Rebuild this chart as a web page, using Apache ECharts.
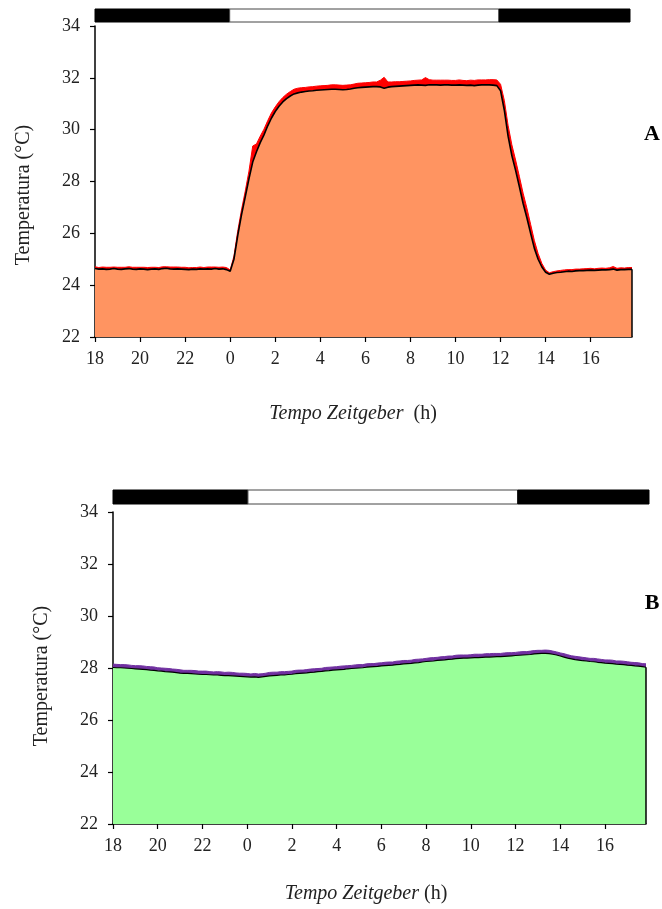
<!DOCTYPE html>
<html>
<head>
<meta charset="utf-8">
<script src="https://cdn.jsdelivr.net/npm/echarts@6/dist/echarts.min.js"></script>
<style>
  html, body { margin: 0; padding: 0; background: #fff; }
  #chart { width: 662px; height: 909px; }
</style>
</head>
<body>
<div id="chart"></div>
<script>
// Sampling: one reading every 10 minutes, starting at ZT18 (hours counted continuously 18 -> 41.83)
const startHour = 18;
const samplesPerHour = 6;

// Panel A: mean temperature (ºC) and standard error, 144 samples
const meanA = [
  24.64,24.62,24.63,24.61,24.62,24.64,
  24.62,24.61,24.63,24.64,24.62,24.61,
  24.63,24.62,24.60,24.62,24.63,24.61,
  24.64,24.65,24.63,24.62,24.63,24.62,
  24.61,24.60,24.62,24.61,24.63,24.62,
  24.63,24.62,24.64,24.62,24.63,24.60,
  24.54,25.00,25.90,26.70,27.40,28.10,
  28.75,29.15,29.50,29.80,30.15,30.45,
  30.70,30.90,31.07,31.20,31.30,31.38,
  31.42,31.45,31.47,31.49,31.50,31.52,
  31.53,31.54,31.55,31.56,31.56,31.55,
  31.54,31.55,31.57,31.60,31.62,31.63,
  31.64,31.65,31.66,31.66,31.65,31.60,
  31.64,31.66,31.67,31.68,31.69,31.70,
  31.71,31.72,31.73,31.72,31.71,31.73,
  31.73,31.73,31.72,31.73,31.73,31.72,
  31.72,31.73,31.72,31.71,31.72,31.70,
  31.72,31.73,31.73,31.73,31.72,31.70,
  31.50,30.75,29.75,29.00,28.43,27.80,
  27.15,26.60,26.00,25.42,25.00,24.70,
  24.50,24.42,24.46,24.49,24.50,24.52,
  24.54,24.53,24.55,24.56,24.56,24.57,
  24.58,24.57,24.58,24.59,24.59,24.60,
  24.62,24.58,24.60,24.60,24.61,24.61
];
const semA = [
  .07,.06,.07,.08,.07,.06,
  .07,.08,.06,.07,.07,.08,
  .06,.07,.08,.07,.06,.07,
  .07,.06,.07,.08,.07,.07,
  .08,.07,.06,.07,.07,.06,
  .07,.08,.06,.07,.07,.08,
  .05,.12,.18,.20,.22,.30,
  .62,.30,.25,.22,.20,.20,
  .18,.18,.17,.17,.17,.18,
  .18,.17,.16,.16,.16,.16,
  .16,.16,.16,.17,.17,.17,
  .17,.17,.16,.16,.17,.17,
  .17,.17,.18,.18,.26,.42,
  .20,.18,.18,.17,.17,.17,
  .17,.18,.18,.20,.30,.20,
  .18,.18,.19,.18,.18,.18,
  .18,.19,.18,.18,.19,.20,
  .20,.19,.19,.20,.21,.22,
  .25,.38,.42,.42,.40,.40,
  .40,.38,.35,.30,.22,.14,
  .08,.06,.06,.06,.07,.07,
  .06,.07,.07,.06,.07,.07,
  .07,.06,.07,.07,.06,.07,
  .10,.07,.07,.06,.07,.07
];

// Panel B: mean temperature (ºC) and standard error, 144 samples
const meanB = [
  28.02,28.01,28.01,28.00,27.99,27.98,
  27.97,27.96,27.95,27.94,27.92,27.91,
  27.89,27.88,27.86,27.85,27.84,27.82,
  27.80,27.79,27.79,27.78,27.77,27.76,
  27.75,27.75,27.74,27.73,27.73,27.72,
  27.71,27.71,27.70,27.69,27.68,27.67,
  27.66,27.65,27.66,27.64,27.66,27.68,
  27.70,27.71,27.72,27.73,27.73,27.75,
  27.76,27.78,27.79,27.80,27.81,27.83,
  27.84,27.86,27.87,27.89,27.90,27.92,
  27.93,27.94,27.95,27.97,27.98,27.99,
  28.00,28.01,28.03,28.04,28.05,28.06,
  28.08,28.09,28.10,28.11,28.13,28.14,
  28.16,28.17,28.18,28.20,28.21,28.23,
  28.25,28.26,28.27,28.29,28.30,28.31,
  28.33,28.34,28.36,28.37,28.38,28.38,
  28.39,28.40,28.40,28.41,28.42,28.42,
  28.43,28.44,28.44,28.45,28.46,28.47,
  28.48,28.49,28.50,28.51,28.52,28.54,
  28.55,28.56,28.56,28.55,28.53,28.50,
  28.46,28.42,28.38,28.35,28.32,28.30,
  28.28,28.27,28.25,28.24,28.22,28.21,
  28.19,28.18,28.17,28.15,28.14,28.13,
  28.11,28.10,28.08,28.07,28.05,28.03
];
const semB = [
  .13,.13,.12,.13,.13,.12,
  .12,.13,.13,.12,.13,.13,
  .12,.12,.13,.13,.12,.13,
  .13,.12,.12,.13,.13,.12,
  .13,.13,.12,.12,.13,.13,
  .12,.13,.13,.12,.12,.13,
  .13,.12,.13,.13,.12,.12,
  .13,.13,.12,.13,.13,.12,
  .12,.13,.13,.12,.13,.13,
  .13,.12,.12,.13,.13,.12,
  .12,.13,.13,.12,.12,.13,
  .13,.12,.13,.13,.12,.13,
  .12,.13,.13,.12,.13,.13,
  .13,.12,.12,.13,.13,.12,
  .12,.13,.13,.12,.13,.13,
  .13,.12,.13,.13,.12,.12,
  .12,.13,.13,.12,.13,.13,
  .13,.12,.12,.13,.13,.12,
  .12,.13,.13,.12,.13,.13,
  .13,.12,.13,.13,.12,.12,
  .12,.13,.13,.12,.13,.13,
  .13,.12,.12,.13,.13,.12,
  .12,.13,.13,.12,.13,.13,
  .13,.12,.13,.13,.12,.13
];

// Axis ticks (continuous hours; labels shown as ZT mod 24)
const xTicks = [18,20,22,24,26,28,30,32,34,36,38,40];
const yMin = 22, yMax = 34, yStep = 2;

// Light/dark schedule for the bar above each panel: [from, to, isLight]
const lightSchedule = [[18, 24, 0], [24, 36, 1], [36, 41 + 5/6, 0]];

const hours = meanA.map((_, i) => startHour + i / samplesPerHour);
const xEnd = hours[hours.length - 1];

const serif = "'Liberation Serif', 'Times New Roman', serif";
const textColor = '#222';

const chart = echarts.init(document.getElementById('chart'), null, { renderer: 'canvas' });

const panels = [
  { mean: meanA, sem: semA, fill: '#FF9461', band: '#FF0000', line: 1.6,
    plot: { left: 95, top: 26, width: 537, height: 311 },
    bar:  { left: 95, top: 9, width: 535, height: 13 } },
  { mean: meanB, sem: semB, fill: '#99FF99', band: '#7030A0', line: 1.2,
    plot: { left: 113, top: 512, width: 533, height: 312 },
    bar:  { left: 113, top: 490, width: 536, height: 14 } }
];

const grid = [], xAxis = [], yAxis = [], series = [];

panels.forEach((p, k) => {
  const gPlot = grid.length;
  grid.push(p.plot);
  const gBar = grid.length;
  grid.push(p.bar);

  xAxis.push({
    type: 'value', gridIndex: gPlot, min: startHour, max: xEnd,
    axisLine: { show: true, lineStyle: { color: '#000', width: 1.5 } },
    axisTick: { show: true, length: 5, lineStyle: { color: '#000', width: 1.2 }, customValues: xTicks },
    axisLabel: { show: true, customValues: xTicks, margin: 13,
      formatter: v => String(Math.round(v) % 24),
      fontFamily: serif, fontSize: 18, color: textColor },
    splitLine: { show: false }
  });
  yAxis.push({
    type: 'value', gridIndex: gPlot, min: yMin, max: yMax, interval: yStep,
    axisLine: { show: true, lineStyle: { color: '#000', width: 1.5 } },
    axisTick: { show: true, length: 5, lineStyle: { color: '#000', width: 1.2 } },
    axisLabel: { margin: 15, fontFamily: serif, fontSize: 18, color: textColor },
    splitLine: { show: false }
  });
  const xPlot = xAxis.length - 1, yPlot = yAxis.length - 1;

  xAxis.push({ type: 'value', gridIndex: gBar, min: startHour, max: xEnd, show: false });
  yAxis.push({ type: 'value', gridIndex: gBar, min: 0, max: 1, show: false });
  const xBar = xAxis.length - 1, yBar = yAxis.length - 1;

  const upper = p.mean.map((m, i) => [hours[i], +(m + p.sem[i]).toFixed(3)]);
  const meanPts = p.mean.map((m, i) => [hours[i], m]);
  const last = meanPts[meanPts.length - 1];

  // mean + SEM envelope
  series.push({
    type: 'line', xAxisIndex: xPlot, yAxisIndex: yPlot, data: upper,
    symbol: 'none', smooth: false,
    lineStyle: { color: p.band, width: 1 },
    areaStyle: { color: p.band, opacity: 1, origin: 'start' },
    z: 2, silent: true
  });
  // mean curve with filled area
  series.push({
    type: 'line', xAxisIndex: xPlot, yAxisIndex: yPlot, data: meanPts,
    symbol: 'none', smooth: false,
    lineStyle: { color: '#000', width: p.line },
    areaStyle: { color: p.fill, opacity: 1, origin: 'start' },
    z: 3, silent: true,
    markLine: {
      silent: true, symbol: 'none', animation: false,
      label: { show: false },
      lineStyle: { color: '#000', width: 1.5, type: 'solid' },
      data: [[{ coord: [last[0], yMin] }, { coord: [last[0], last[1]] }]]
    }
  });
  // light/dark bar
  series.push({
    type: 'custom', xAxisIndex: xBar, yAxisIndex: yBar,
    data: lightSchedule,
    encode: { x: [0, 1], y: 2 },
    silent: true,
    renderItem: (params, api) => {
      const a = api.coord([api.value(0), 1]);
      const b = api.coord([api.value(1), 0]);
      const light = api.value(2) === 1;
      return {
        type: 'rect',
        shape: { x: a[0], y: a[1], width: b[0] - a[0], height: b[1] - a[1] },
        style: { fill: light ? '#fff' : '#000', stroke: light ? '#444' : '#000', lineWidth: 1 }
      };
    }
  });
});

const titleFont = '20px ' + serif;
const graphic = [
  { type: 'text', x: 353, y: 414, style: { text: '{i|Tempo Zeitgeber}  (h)', font: titleFont, fill: textColor,
      align: 'center', verticalAlign: 'middle', rich: { i: { fontStyle: 'italic', font: 'italic 20px ' + serif, fill: textColor } } } },
  { type: 'text', x: 24, y: 195, rotation: Math.PI / 2, style: { text: 'Temperatura (°C)', font: titleFont, fill: textColor,
      align: 'center', verticalAlign: 'middle' } },
  { type: 'text', x: 652, y: 134, style: { text: 'A', font: 'bold 22px ' + serif, fill: '#000', align: 'center', verticalAlign: 'middle' } },
  { type: 'text', x: 366, y: 894, style: { text: '{i|Tempo Zeitgeber} (h)', font: titleFont, fill: textColor,
      align: 'center', verticalAlign: 'middle', rich: { i: { fontStyle: 'italic', font: 'italic 20px ' + serif, fill: textColor } } } },
  { type: 'text', x: 42, y: 676, rotation: Math.PI / 2, style: { text: 'Temperatura (°C)', font: titleFont, fill: textColor,
      align: 'center', verticalAlign: 'middle' } },
  { type: 'text', x: 652, y: 603, style: { text: 'B', font: 'bold 22px ' + serif, fill: '#000', align: 'center', verticalAlign: 'middle' } }
];

chart.setOption({
  animation: false,
  backgroundColor: '#fff',
  grid, xAxis, yAxis, series, graphic
});
</script>
</body>
</html>
